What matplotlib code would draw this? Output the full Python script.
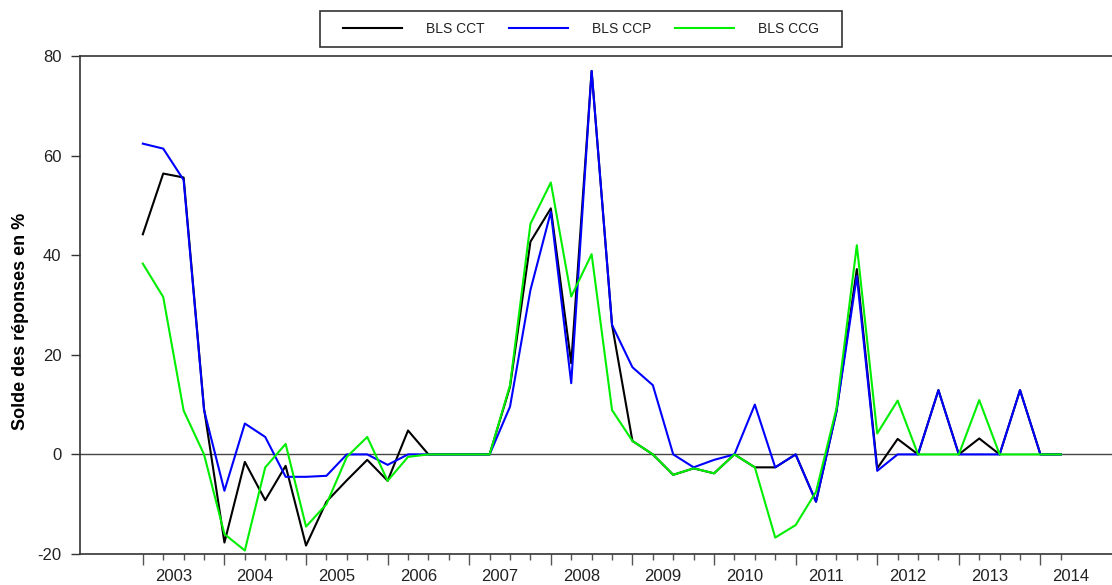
import matplotlib
matplotlib.use("Agg")
import matplotlib.pyplot as plt
from matplotlib.lines import Line2D
from matplotlib.patches import Rectangle

plt.rcParams['font.family'] = ['Liberation Sans', 'DejaVu Sans']
plt.rcParams['axes.unicode_minus'] = False

# ----------------------------
# Données trimestrielles 2003T1 - 2014T2
# ----------------------------
annees = [str(a) for a in range(2003, 2015)]

bls_cct = [44.2, 56.4, 55.6, 9.2, -17.7, -1.5, -9.2, -2.3,
           -18.3, -9.5, -5.2, -1.1, -5.3, 4.8, 0, 0,
           0, 0, 13.6, 42.7, 49.4, 18.3, 77.0, 26.0,
           2.7, 0, -4.1, -2.8, -3.8, 0, -2.6, -2.6,
           0, -9.5, 8.6, 37.2, -2.8, 3.1, 0, 12.9,
           0, 3.2, 0, 12.9, 0, 0]

bls_ccp = [62.4, 61.4, 55.1, 8.9, -7.3, 6.2, 3.5, -4.5,
           -4.5, -4.3, 0, 0, -2.1, 0, 0, 0,
           0, 0, 9.6, 33.0, 48.7, 14.3, 77.0, 26.0,
           17.5, 13.9, 0, -2.6, -1.1, 0, 10.0, -2.6,
           0, -9.5, 8.6, 35.8, -3.3, 0, 0, 12.9,
           0, 0, 0, 12.9, 0, 0]

bls_ccg = [38.3, 31.6, 8.8, 0, -16.0, -19.3, -2.6, 2.1,
           -14.5, -10.0, -0.5, 3.5, -5.3, -0.5, 0, 0,
           0, 0, 13.9, 46.3, 54.6, 31.7, 40.2, 8.9,
           2.7, 0, -4.1, -2.8, -3.8, 0, -2.6, -16.7,
           -14.2, -7.5, 9.2, 42.0, 4.2, 10.8, 0, 0,
           0, 10.9, 0, 0, 0, 0]

series = [("BLS CCT", bls_cct, "#000000"),
          ("BLS CCP", bls_ccp, "#0000ff"),
          ("BLS CCG", bls_ccg, "#00ee00")]

n = len(bls_cct)
x = list(range(n))

# ----------------------------
# Figure
# ----------------------------
W, H = 1112, 585
fig = plt.figure(figsize=(W / 100, H / 100), dpi=100)
xmin, xmax = -3.08, 48
ax = fig.add_axes([80 / W, 31 / H, (xmax - xmin) * 20.4 / W, 498 / H])

ax.axhline(0, color="#444444", lw=1.0, zorder=1)
handles = []
for nom, y, col in series:
    ax.plot(x, y, color=col, lw=1.5, zorder=2)
    handles.append(Line2D([], [], color=col, lw=1.5))

ax.set_xlim(xmin, xmax)
ax.set_ylim(-20, 80)
ax.set_yticks([-20, 0, 20, 40, 60, 80])

for s in ax.spines.values():
    s.set_color("#333333")
    s.set_linewidth(1.2)

ax.tick_params(axis="y", length=6.5, width=1, color="#333333", pad=7,
               labelsize=12, labelcolor="#222222")
ax.set_xticks(range(0, n, 4))
ax.set_xticks(x, minor=True)
ax.tick_params(axis="x", which="major", length=8, width=1, color="#555555",
               labelbottom=False)
ax.tick_params(axis="x", which="minor", length=4.3, width=1, color="#555555")

sec = ax.secondary_xaxis("bottom")
sec.set_xticks([1.5 + 4 * k for k in range(len(annees))], annees)
sec.tick_params(length=0, pad=11, labelsize=12, labelcolor="#222222")
sec.spines["bottom"].set_visible(False)

ax.set_ylabel("Solde des réponses en %", fontsize=13, fontweight="bold")
ax.yaxis.set_label_coords((29 - 80) / ((xmax - xmin) * 20.4), (554 - 321) / 498)

# Légende
fig.patches.append(Rectangle((320 / W, 1 - 47 / H), 522 / W, 36 / H,
                             transform=fig.transFigure, fill=False,
                             edgecolor="#333333", lw=1.2))
fig.legend(handles, [s[0] for s in series], loc="center left",
           bbox_to_anchor=(343 / W, 1 - 29 / H), ncol=3, frameon=False,
           borderpad=0, borderaxespad=0, handlelength=4.25,
           handletextpad=1.73, columnspacing=1.73, fontsize=10,
           labelcolor="#222222")

fig.savefig("out.png", dpi=100)
